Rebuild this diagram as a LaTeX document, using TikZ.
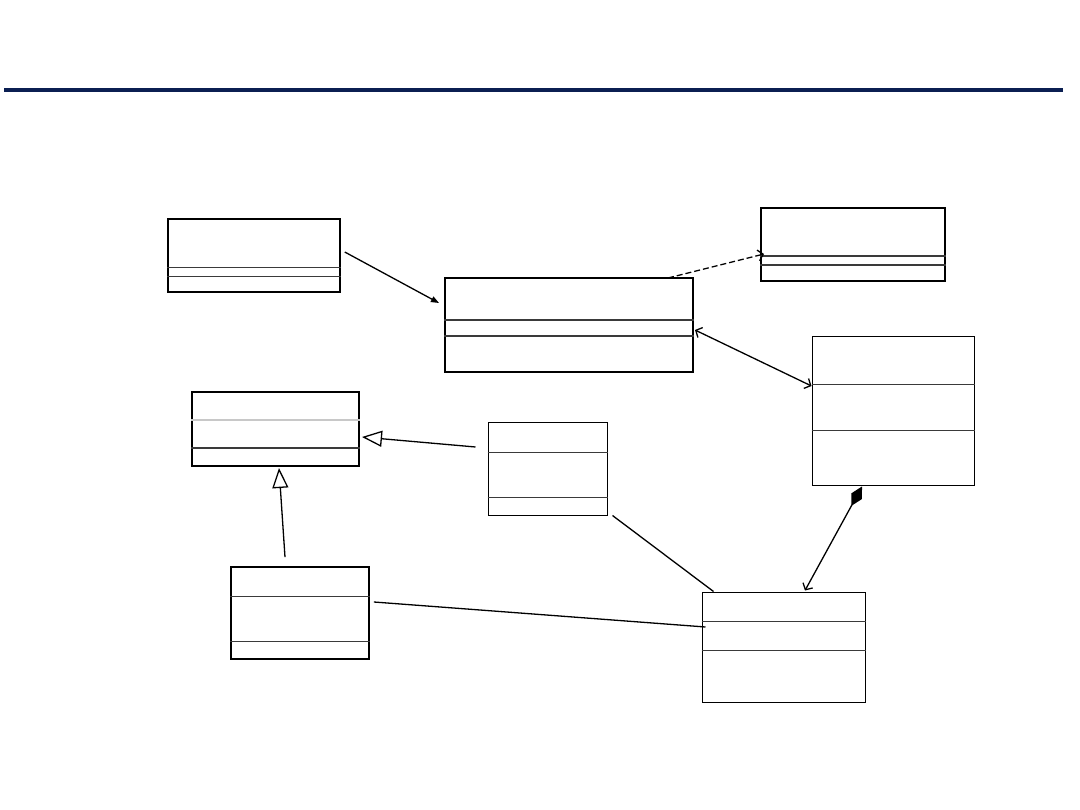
\documentclass[tikz,border=0pt]{standalone}
\usetikzlibrary{arrows.meta,calc}
\definecolor{barnavy}{HTML}{0B1F52}
\definecolor{compline}{HTML}{3A3A3A}
\definecolor{paleline}{HTML}{C8C8C8}

\tikzset{
  classbox/.style={draw,rectangle,inner sep=0pt,fill=white},
  compart/.style={line width=1.1pt},
  link/.style={line width=1.3pt},
  inherit/.style={link,-{Triangle[open,length=20pt,width=16pt]}},
  navig/.style={-{Straight Barb[length=5pt,width=11pt]}},
}

\begin{document}
\begin{tikzpicture}[x=1pt,y=-1pt]
  \useasboundingbox (0,0) rectangle (1080,810);
  \fill[barnavy] (4,88) rectangle (1063,92);

  % class boxes: name/x/y/width/height/first line/second line/border/first line colour
  \foreach \n/\x/\y/\w/\h/\la/\lb/\lw/\lc in {
      topleft/254/255.5/172/73/49/58/1.5/compline,
      centre/569/325/248/94/43/59/2/compline,
      topright/853/244.5/184/73/49/58/2/compline,
      right/893/411/162/148/48/94/1/compline,
      midleft/275.5/429/167/74/29/57/2/paleline,
      middle/547.5/469/119/92/30/75/1/compline,
      bottomleft/300/613/138/92/30/75/1.8/compline,
      bottomright/783.5/647/163/110/30/59/1/compline} {
    \node[classbox,line width=\lw pt,minimum width=\w pt,minimum height=\h pt] (\n) at (\x,\y) {};
    \draw[compart,\lc] ($(\n.north west)+(0,\la)$) -- ($(\n.north east)+(0,\la)$);
    \draw[compart,compline] ($(\n.north west)+(0,\lb)$) -- ($(\n.north east)+(0,\lb)$);
  }

  % associations
  \draw[link,-{Triangle[length=8pt,width=6pt]}]
    ([shift={(4,-3.5)}]topleft.east) -- ([shift={(-5,-22)}]centre.west);
  \draw[link,navig,dashed,dash pattern=on 6pt off 3pt]
    ([shift={(-26,1)}]centre.north east) -- ([shift={(4,9.5)}]topright.west);
  \draw[link,{Straight Barb[length=5pt,width=11pt]}-{Straight Barb[length=5pt,width=11pt]}]
    ([shift={(1,5)}]centre.east) -- ([shift={(0,-25)}]right.west);
  \draw[inherit]
    ([shift={(-12,-22)}]middle.west) -- ([shift={(2,8)}]midleft.east);
  \draw[inherit]
    ([shift={(-15,-9)}]bottomleft.north) -- ([shift={(3.5,1)}]midleft.south);
  \draw[link]
    ([shift={(5,0)}]middle.south east) -- ([shift={(12,0)}]bottomright.north west);
  \draw[link]
    ([shift={(4,-11)}]bottomleft.east) -- ([shift={(4,-20)}]bottomright.west);
  \draw[link,{Diamond[length=22pt,width=12pt]}-{Straight Barb[length=5pt,width=11pt]}]
    ([shift={(-31,1)}]right.south) -- ([shift={(21.5,-1)}]bottomright.north);
\end{tikzpicture}
\end{document}
